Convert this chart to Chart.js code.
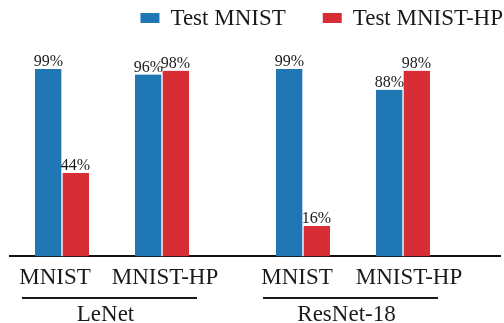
<!DOCTYPE html>
<html>
<head>
<meta charset="utf-8">
<script src="https://cdn.jsdelivr.net/npm/chart.js@4/dist/chart.umd.min.js"></script>
<style>
  html, body { margin: 0; padding: 0; background: #fff; }
  #wrap { width: 504px; height: 323px; position: relative; }
</style>
</head>
<body>
<div id="wrap"><canvas id="chart"></canvas></div>
<script>
// data
const categories = ['MNIST', 'MNIST-HP', 'MNIST', 'MNIST-HP'];
const models = ['LeNet', 'ResNet-18'];
const modelOfCategory = [0, 0, 1, 1];
const seriesNames = ['Test MNIST', 'Test MNIST-HP'];
const testMnist = [99, 96, 99, 88];
const testMnistHp = [44, 98, 16, 98];

const BLUE = '#1f77b4';
const RED = '#d62d36';
const INK = '#1a1a1a';
const FONT = "'Liberation Serif', 'Times New Roman', serif";

// extra space between the two model groups (in category units)
const GROUP_GAP = 0.41;
const xPos = categories.map((c, i) => i + modelOfCategory[i] * GROUP_GAP);
// tick labels sit slightly off the bar pair centre in the original
const labelNudge = [-0.07, 0.03, -0.06, 0.06];

const annotate = {
    id: 'annotate',
    afterDatasetsDraw(chart) {
        const ctx = chart.ctx;
        const x = chart.scales.x;
        ctx.save();
        ctx.fillStyle = INK;

        // value labels
        ctx.font = '16px ' + FONT;
        ctx.textAlign = 'center';
        ctx.textBaseline = 'alphabetic';
        chart.data.datasets.forEach((ds, di) => {
            chart.getDatasetMeta(di).data.forEach((bar, i) => {
                ctx.fillText(ds.data[i].y + '%', bar.x, bar.y - 3);
            });
        });

        // model brackets under the tick labels
        ctx.font = '23px ' + FONT;
        models.forEach((m, g) => {
            const idx = modelOfCategory.map((v, i) => v === g ? i : -1).filter(i => i >= 0);
            const left = x.getPixelForValue(xPos[idx[0]] - 0.4);
            const right = x.getPixelForValue(xPos[idx[idx.length - 1]] + 0.35);
            ctx.fillRect(left, 297, right - left, 2);
            ctx.fillText(m, (left + right) / 2 - 4, 321);
        });

        // legend, right aligned at the top
        const items = chart.data.datasets.map(ds => ({ text: ds.label, color: ds.backgroundColor }));
        ctx.textAlign = 'left';
        let end = 503;
        for (let k = items.length - 1; k >= 0; k--) {
            const w = ctx.measureText(items[k].text).width;
            const tx = end - w;
            ctx.fillStyle = INK;
            ctx.fillText(items[k].text, tx, 25);
            ctx.fillStyle = items[k].color;
            ctx.fillRect(tx - 11 - 19, 13, 19, 10);
            end = tx - 11 - 19 - 37;
        }
        ctx.restore();
    }
};

new Chart(document.getElementById('chart'), {
    type: 'bar',
    data: {
        datasets: [
            {
                label: seriesNames[0],
                data: testMnist.map((v, i) => ({ x: xPos[i], y: v })),
                backgroundColor: BLUE,
                borderColor: '#fff',
                borderWidth: { right: 1 },
                barThickness: 27
            },
            {
                label: seriesNames[1],
                data: testMnistHp.map((v, i) => ({ x: xPos[i], y: v })),
                backgroundColor: RED,
                borderColor: '#fff',
                borderWidth: { left: 1 },
                barThickness: 27
            }
        ]
    },
    options: {
        responsive: true,
        maintainAspectRatio: false,
        animation: false,
        layout: { padding: { left: 10, right: 4, top: 67, bottom: 23 } },
        plugins: {
            legend: { display: false },
            tooltip: { enabled: false }
        },
        scales: {
            x: {
                type: 'linear',
                offset: false,
                min: -0.52,
                max: 4.38,
                grid: { display: false, drawTicks: false },
                border: { display: true, color: '#111', width: 2 },
                afterBuildTicks: axis => {
                    axis.ticks = xPos.map((p, i) => ({ value: p + labelNudge[i] }));
                },
                ticks: {
                    autoSkip: false,
                    maxRotation: 0,
                    padding: 8,
                    color: INK,
                    font: { family: FONT, size: 23 },
                    callback: (value, index) => categories[index]
                }
            },
            y: {
                display: false,
                min: 0,
                max: 100
            }
        }
    },
    plugins: [annotate]
});
</script>
</body>
</html>
